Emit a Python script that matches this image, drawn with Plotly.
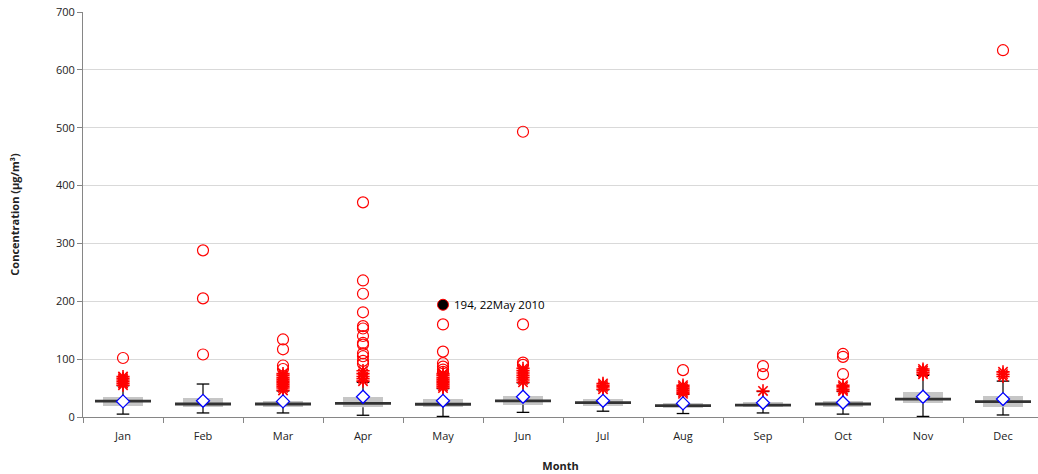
import plotly.graph_objects as go

months = ["Jan", "Feb", "Mar", "Apr", "May", "Jun", "Jul", "Aug", "Sep", "Oct", "Nov", "Dec"]
q1 = [19, 17, 17, 17, 18, 21, 19, 15.5, 17, 17, 23.5, 17]
median = [27.5, 22.5, 22.5, 23.5, 22, 28, 25, 19.5, 20.5, 22.5, 31, 26.5]
q3 = [35, 32, 28, 35, 31, 36, 30.5, 25, 26.5, 28, 44, 36]
mean = [27, 28, 27, 35, 28, 35, 28, 23.5, 24.5, 25, 35, 31]
lower = [5, 7, 7, 3, 1, 8, 10, 6, 7, 5, 1, 3.5]
upper = [54, 57, 45, 60, 49, 59, 47, 39, 44, 44, 72, 62]

mild = {
    "Jan": [55, 58, 61, 64, 67, 70],
    "Feb": [],
    "Mar": [46, 50, 53, 56, 59, 62, 65, 68, 72, 75],
    "Apr": [62, 66, 70, 75, 80],
    "May": [50, 53, 56, 59, 62, 65, 68, 72, 75],
    "Jun": [60, 64, 68, 72, 76, 80, 84],
    "Jul": [48, 52, 55, 58],
    "Aug": [40, 43, 46, 49, 52, 55],
    "Sep": [45],
    "Oct": [45, 48, 52, 55],
    "Nov": [74, 77, 80, 83],
    "Dec": [70, 74, 78],
}
extreme = {
    "Jan": [102],
    "Feb": [108, 205, 288],
    "Mar": [83, 89, 117, 134],
    "Apr": [92, 97, 105, 110, 125, 128, 140, 153, 157, 181, 213, 236, 371],
    "May": [78, 82, 87, 93, 113, 160],
    "Jun": [90, 94, 160, 493],
    "Jul": [],
    "Aug": [81],
    "Sep": [74, 88],
    "Oct": [74, 104, 109],
    "Nov": [],
    "Dec": [634],
}
highlight_month = "May"
highlight_value = 194
highlight_label = "194, 22May 2010"

fig = go.Figure()

# boxes (Q1-Q3)
fig.add_trace(go.Bar(
    x=months, y=[b - a for a, b in zip(q1, q3)], base=q1, width=0.5,
    marker=dict(color="#c6c6c6", line=dict(width=0)), hoverinfo="skip"))

# whiskers
wx, wy = [], []
for m, lo, a, b, hi in zip(months, lower, q1, q3, upper):
    wx += [m, m, None, m, m, None]
    wy += [lo, a, None, b, hi, None]
fig.add_trace(go.Scatter(x=wx, y=wy, mode="lines",
                         line=dict(color="black", width=1.2), hoverinfo="skip"))
# caps
fig.add_trace(go.Scatter(x=months + months, y=lower + upper, mode="markers",
                         marker=dict(symbol="line-ew-open", size=9, color="black",
                                     line=dict(color="black", width=1.3))))
# median
fig.add_trace(go.Scatter(x=months, y=median, mode="markers",
                         marker=dict(symbol="line-ew-open", size=40, color="#333333",
                                     line=dict(color="#333333", width=2.8))))

# mild outliers
mx, my = [], []
for m in months:
    mx += [m] * len(mild[m])
    my += mild[m]
fig.add_trace(go.Scatter(x=mx, y=my, mode="markers",
                         marker=dict(symbol="asterisk-open", size=11, color="#ff0000",
                                     line=dict(color="#ff0000", width=1.6))))

# extreme outliers
ex, ey = [], []
for m in months:
    ex += [m] * len(extreme[m])
    ey += extreme[m]
fig.add_trace(go.Scatter(x=ex, y=ey, mode="markers",
                         marker=dict(symbol="circle-open", size=11, color="#ff0000",
                                     line=dict(color="#ff0000", width=1.2))))

# mean
fig.add_trace(go.Scatter(x=months, y=mean, mode="markers",
                         marker=dict(symbol="diamond", size=10, color="white",
                                     line=dict(color="#0000ff", width=1.3))))

# highlighted point
fig.add_trace(go.Scatter(x=[highlight_month], y=[highlight_value], mode="markers",
                         marker=dict(symbol="circle", size=11, color="black",
                                     line=dict(color="#ff0000", width=1))))
fig.add_annotation(x=highlight_month, y=highlight_value, text=highlight_label,
                   showarrow=False, xanchor="left", xshift=9,
                   font=dict(size=11.5, color="black", family="Open Sans"))

fig.update_layout(
    width=1038, height=474,
    margin=dict(l=83, r=0, t=12, b=57),
    paper_bgcolor="white", plot_bgcolor="white",
    showlegend=False, bargap=0,
    font=dict(family="Open Sans", size=11, color="#222"),
)
fig.update_xaxes(
    type="category", categoryorder="array", categoryarray=months,
    range=[-0.5, 11.4375], showline=True, linecolor="#868686", linewidth=1,
    ticks="outside", tickson="boundaries", ticklen=5, tickcolor="#868686",
    ticklabelstandoff=9,
    showgrid=False, automargin=False,
    title=dict(text="<b>Month</b>", font=dict(size=11, family="Open Sans"), standoff=20),
)
fig.update_yaxes(
    range=[0, 700], dtick=100, showline=True, linecolor="#868686", linewidth=1,
    ticks="outside", ticklen=5, tickcolor="#868686", automargin=False,
    ticklabeloverflow="allow",
    showgrid=True, gridcolor="#d9d9d9", gridwidth=1, zeroline=False,
    title=dict(text="<b>Concentration (µg/m³)</b>", font=dict(size=11, family="Open Sans"), standoff=34),
)

fig.write_html("out.html", config={"displayModeBar": False},
               post_script="document.body.style.margin='0';document.body.style.padding='0';")
